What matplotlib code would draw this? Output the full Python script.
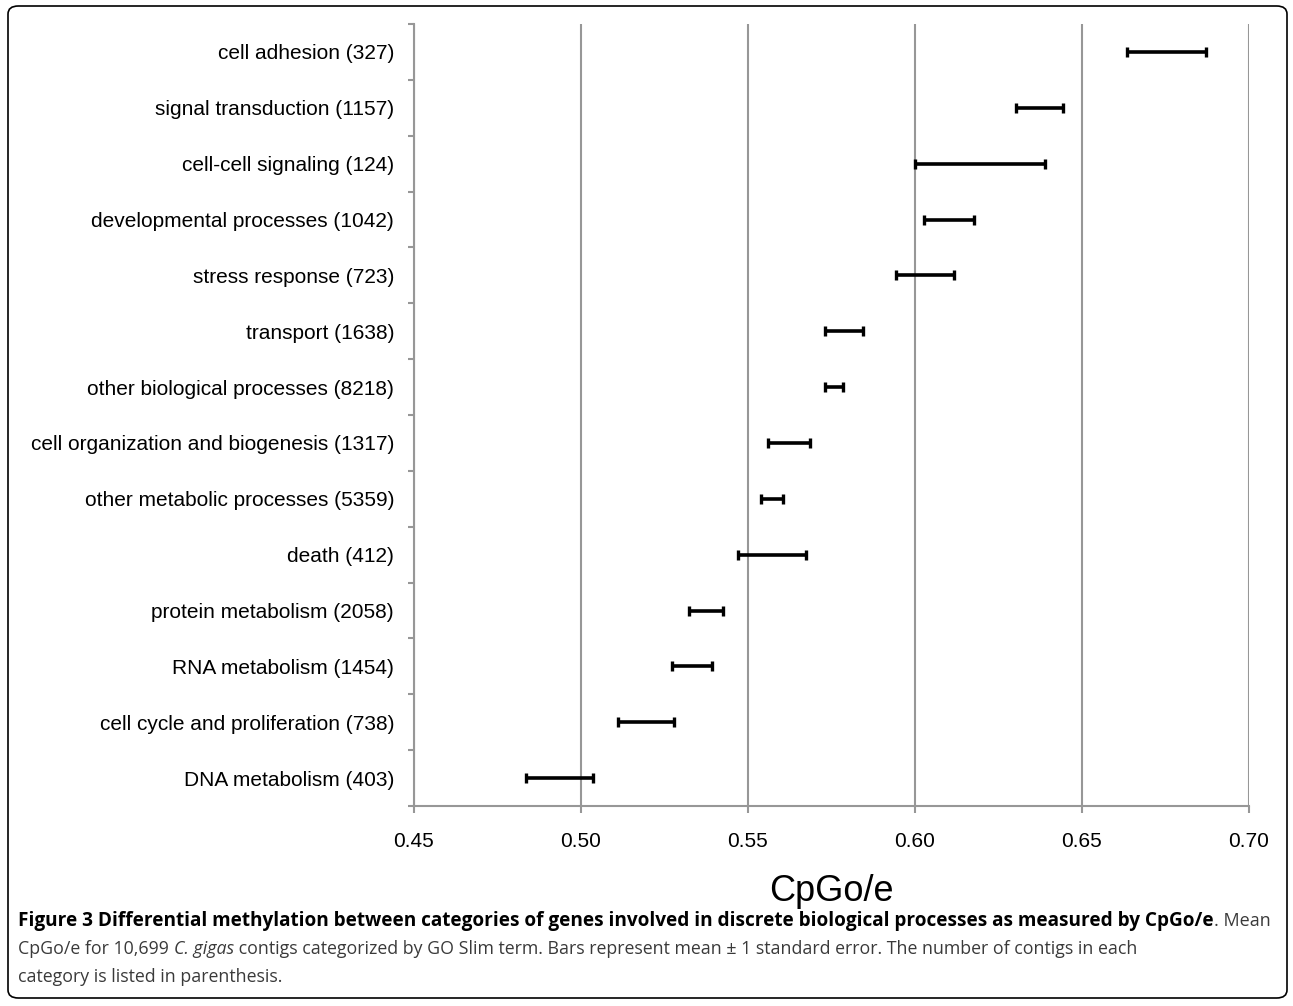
import matplotlib
matplotlib.use("Agg")
import matplotlib.pyplot as plt
import numpy as np
from matplotlib import font_manager
from matplotlib.patches import FancyBboxPatch

# GO Slim categories, top to bottom as in the figure
categories = [
    "cell adhesion",
    "signal transduction",
    "cell-cell signaling",
    "developmental processes",
    "stress response",
    "transport",
    "other biological processes",
    "cell organization and biogenesis",
    "other metabolic processes",
    "death",
    "protein metabolism",
    "RNA metabolism",
    "cell cycle and proliferation",
    "DNA metabolism",
]
n_contigs = [327, 1157, 124, 1042, 723, 1638, 8218, 1317, 5359, 412, 2058, 1454, 738, 403]

# mean CpGo/e and standard error
mean_cpg = [0.6754, 0.6374, 0.6195, 0.6102, 0.6030, 0.5789, 0.5759,
            0.5623, 0.5574, 0.5572, 0.5375, 0.5333, 0.5196, 0.4937]
std_err = [0.0118, 0.0070, 0.0195, 0.0074, 0.0086, 0.0057, 0.0027,
           0.0062, 0.0033, 0.0102, 0.0050, 0.0060, 0.0084, 0.0101]

x_ticks = [0.45, 0.50, 0.55, 0.60, 0.65, 0.70]


def first_font(names):
    available = {f.name for f in font_manager.fontManager.ttflist}
    for name in names:
        if name in available:
            return name
    return "DejaVu Sans"


chart_font = first_font(["Liberation Sans", "Arial", "DejaVu Sans"])
caption_font = first_font(["Liberation Sans Narrow", "Open Sans", "Liberation Sans"])

plt.rcParams["font.family"] = chart_font

W, H, DPI = 1293, 1006, 100
fig = plt.figure(figsize=(W / DPI, H / DPI), dpi=DPI)
ax = fig.add_axes([413.5 / W, 1 - 806 / H, (1249 - 413.5) / W, (806 - 24) / H])

grid_col = "#979797"
n = len(categories)
ypos = np.arange(n)

ax.errorbar(mean_cpg, ypos, xerr=std_err, fmt="none", ecolor="black",
            elinewidth=2.6, capsize=3.8, capthick=2.4, zorder=3)

ax.set_xlim(0.45, 0.70)
ax.set_ylim(n - 0.5, -0.5)
ax.set_xticks(x_ticks)
ax.set_xticklabels([f"{t:.2f}" for t in x_ticks])
ax.set_yticks(ypos)
ax.set_yticklabels([f"{c} ({k})" for c, k in zip(categories, n_contigs)])
ax.set_yticks(np.arange(n + 1) - 0.5, minor=True)

ax.xaxis.grid(True, color=grid_col, linewidth=1.5)
ax.set_axisbelow(True)
for side in ["top", "right"]:
    ax.spines[side].set_visible(False)
for side in ["left", "bottom"]:
    ax.spines[side].set_color(grid_col)
    ax.spines[side].set_linewidth(1.5)

ax.tick_params(axis="y", which="major", length=0, pad=14, labelsize=15)
ax.tick_params(axis="y", which="minor", length=4, width=1.5, color=grid_col)
ax.tick_params(axis="x", length=5, width=1.5, color=grid_col, pad=14, labelsize=15)
ax.set_xlabel("CpGo/e", fontsize=26, labelpad=16)

# rounded frame around the whole figure
frame = FancyBboxPatch((8 / W, 8 / H), (W - 14) / W, (H - 14) / H,
                       boxstyle="round,pad=0,rounding_size=0.008",
                       transform=fig.transFigure, fill=False,
                       edgecolor="black", linewidth=1.2)
fig.patches.append(frame)

# caption, built from runs with different weights / styles
renderer = fig.canvas.get_renderer()
body_col = "#3a3a3a"


def draw_runs(runs, x0, y_px):
    x = x0
    for txt, weight, style, col, size in runs:
        t = fig.text(x / W, 1 - y_px / H, txt, fontsize=size, family=caption_font,
                     weight=weight, style=style, color=col, va="center", ha="left")
        bb = t.get_window_extent(renderer=renderer)
        x = bb.x1


draw_runs([
    ("Figure 3 Differential methylation between categories of genes involved in discrete "
     "biological processes as measured by CpGo/e", "bold", "normal", "black", 13.7),
    (". Mean", "normal", "normal", body_col, 13.0),
], 18, 921)
draw_runs([
    ("CpGo/e for 10,699 ", "normal", "normal", body_col, 12.8),
    ("C. gigas", "normal", "italic", body_col, 12.8),
    (" contigs categorized by GO Slim term. Bars represent mean \u00b1 1 standard error. "
     "The number of contigs in each", "normal", "normal", body_col, 12.8),
], 18, 949)
draw_runs([
    ("category is listed in parenthesis.", "normal", "normal", body_col, 12.8),
], 18, 977)

fig.savefig("out.png", dpi=DPI)
